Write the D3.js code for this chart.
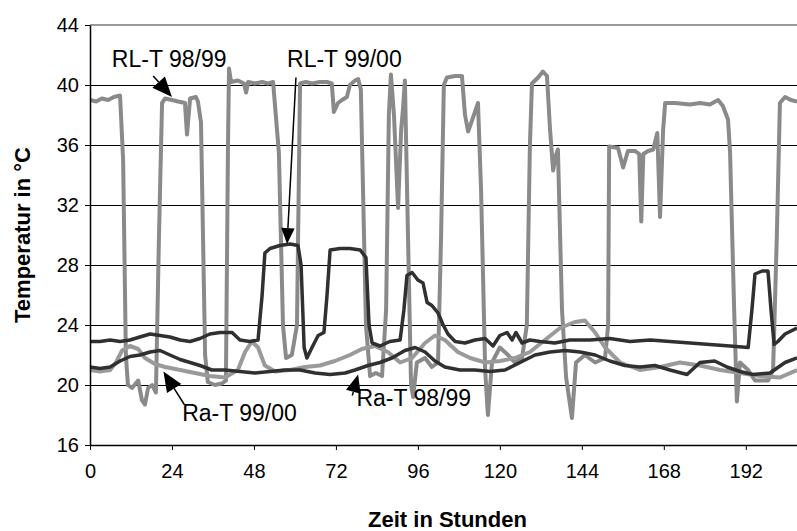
<html>
<head>
  <meta charset="utf-8">
  <script src="https://d3js.org/d3.v7.min.js"></script>
</head>
<style>
  body { margin: 0; background: #fff; }
  text { font-family: Arial, 'Liberation Sans', sans-serif; }
</style>
<body>
  <div class="chart"></div>
  <script>
    // values: hours / temperature in °C
    var rl9899Hours = [0,1.8,3.5,5.3,7.0,8.8,9.7,10.5,11.1,12.3,14.1,15.2,16.1,17.0,18.2,19.3,20.2,21.1,22.0,24.0,25.8,27.8,28.4,29.3,31.0,31.6,32.5,33.7,34.5,36.6,38.6,39.8,40.4,40.7,41.3,43.3,45.1,45.7,46.3,48.3,50.4,52.1,53.6,55.3,56.5,57.4,59.1,60.6,61.5,63.2,65.0,67.3,69.4,70.8,71.4,72.6,73.8,75.2,76.1,77.6,78.5,79.3,80.8,82.0,83.7,85.5,86.7,87.5,88.1,89.0,90.2,91.1,91.6,92.2,93.1,94.0,94.6,95.7,98.1,100.1,101.9,102.8,103.6,104.5,106.9,108.9,109.8,110.7,112.1,113.6,114.5,115.7,116.5,117.7,120.0,122.4,124.4,126.5,127.9,128.8,129.4,131.2,132.6,133.8,134.7,135.6,136.4,137.0,138.2,139.4,141.1,142.3,144.9,147.9,150.8,151.7,152.0,154.6,156.1,157.5,159.6,160.8,161.4,162.0,163.4,164.9,166.1,166.9,167.8,168.4,171.3,175.7,178.6,181.5,183.9,185.3,186.8,187.4,188.6,189.4,190.3,192.7,194.7,198.5,200.0,201.1,202.0,203.5,205.2,207.0];
    var rl9899Temp = [39.0,38.9,39.1,39.0,39.2,39.3,35,22,20.0,19.8,20.3,19.0,18.7,19.8,20.0,19.5,30,38.8,39.1,39.0,38.9,38.8,36.7,39.1,39.2,38.9,37.5,22,20.2,20.0,20.1,20.3,36,41.1,40.2,40.3,40.1,39.5,40.2,40.1,40.2,40.1,40.2,35.5,24,21.8,22.0,24,40.1,40.2,40.1,40.2,40.2,40.1,38.2,38.8,39.0,39.2,40.0,40.3,40.4,39.7,24,20.6,20.8,20.6,25,38,40.7,38,31.8,37.0,38.3,40.3,30,20,19.2,21.5,21.8,21.2,21.5,30,40.0,40.5,40.6,40.6,38,36.9,37.8,38.8,33,21,18.0,21.5,22.5,22.0,21.5,21.8,24,36,40.1,40.5,40.9,40.6,37,34.3,35.3,35.7,25,20.5,17.8,21.5,22,21.5,21.8,24,35.9,35.8,34.5,35.6,35.6,35.4,30.9,35.4,35.6,35.7,36.8,31.2,37,38.8,38.8,38.7,38.8,38.7,39.0,38.6,37.7,35.5,25,18.9,21.5,21,20.3,20.3,21,30,38.8,39.2,39.0,38.9];

    var rl9900Hours = [0,2.9,5.9,8.8,11.7,14.6,17.6,20.5,23.4,26.4,29.3,32.2,35.1,38.1,41.6,43.9,46.8,49.2,50.4,51.2,52.7,55.6,58.6,60.9,61.8,62.7,63.5,65.0,66.8,68.5,69.4,70.3,73.2,76.1,79.1,80.8,81.7,82.6,84.9,87.8,90.8,91.9,92.8,94.3,96.0,97.5,98.7,100.1,101.9,103.4,104.8,106.9,109.8,112.7,115.7,118.0,120.0,122.1,123.6,124.7,126.5,128.8,131.8,136.1,140.5,146.4,152.2,158.1,164.0,169.8,175.7,181.5,187.4,192.7,193.8,194.7,196.8,198.5,199.4,200.3,201.4,203.5,207.0];
    var rl9900Temp = [22.9,22.9,23.0,22.9,23.0,23.2,23.4,23.3,23.2,23.0,22.9,23.1,23.4,23.5,23.5,23.0,22.9,23.0,26,28.8,29.1,29.3,29.4,29.3,28,22.5,21.8,22.5,23.3,23.5,26,29.0,29.1,29.1,29.0,28.5,24,22.8,22.6,22.9,23.0,25,27.3,27.5,27.0,26.8,25.5,25.3,24.8,24.0,23.4,22.9,22.8,23.0,23.1,22.6,23.3,23.5,23.0,23.5,22.8,23.0,22.9,22.8,23.0,23.0,23.1,22.9,23.0,22.9,22.8,22.7,22.6,22.5,25,27.4,27.6,27.6,25,22.7,22.9,23.4,23.8];

    var ra9899Hours = [0,2.9,5.9,7.6,9.4,11.7,14.1,16.1,19.0,22.0,26.4,30.7,35.1,39.5,43.3,45.4,47.4,49.2,51.2,54.2,58.6,62.9,67.3,71.7,76.1,79.6,83.4,87.2,90.8,94.3,98.1,101.0,103.9,107.7,111.3,115.7,120.0,124.4,128.8,133.2,137.6,142.0,144.9,147.9,150.8,155.2,161.0,166.9,172.7,178.6,184.5,190.3,196.2,202.0,207.0];
    var ra9899Temp = [21.0,20.9,21.0,21.5,22.3,22.6,22.4,21.8,21.4,21.2,21.0,20.8,20.6,20.5,21.0,22.2,22.9,22.5,21.3,20.9,21.0,21.2,21.3,21.6,22.0,22.4,22.6,22.2,21.5,21.8,22.8,23.3,23.0,22.2,21.8,21.5,21.6,21.8,22.2,23.0,23.8,24.2,24.3,23.5,22.5,21.5,21.0,21.2,21.5,21.3,21.0,20.8,20.6,20.5,21.0];

    var ra9900Hours = [0,2.9,5.9,8.8,11.7,14.6,17.6,20.5,23.4,26.4,29.3,32.2,35.7,39.5,43.9,48.3,52.7,57.1,61.5,65.9,70.3,74.7,77.6,81.4,84.9,88.4,92.2,95.2,98.1,101.0,103.9,108.3,112.7,117.1,121.5,125.9,130.3,134.7,139.1,143.5,147.9,152.2,156.6,161.0,165.4,169.8,174.8,178.6,182.9,186.5,190.3,194.1,199.1,203.5,207.0];
    var ra9900Temp = [21.2,21.1,21.2,21.6,21.9,22.0,22.2,22.3,22.0,21.7,21.5,21.3,21.0,21.0,20.9,20.8,20.9,21.0,21.0,20.8,20.7,20.8,21.0,21.3,21.5,21.8,22.3,22.5,22.2,21.6,21.2,21.0,21.0,20.9,21.0,21.5,22.0,22.2,22.3,22.2,22.0,21.6,21.3,21.2,21.3,21.0,20.7,21.5,21.6,21.2,20.9,20.7,20.8,21.5,21.8];

    var xTicks = [0, 24, 48, 72, 96, 120, 144, 168, 192];
    var yTicks = [16, 20, 24, 28, 32, 36, 40, 44];

    var margin = {top: 25, right: 0, bottom: 86, left: 90};
    var width = 797 - margin.left - margin.right;
    var height = 531 - margin.top - margin.bottom;

    var svg = d3.select('.chart')
      .append('svg')
        .attr('width', 797)
        .attr('height', 531);

    var x = d3.scaleLinear().domain([0, 207]).range([0, width]);
    var y = d3.scaleLinear().domain([16, 44]).range([height, 0]);

    var g = svg.append('g')
      .attr('transform', 'translate(' + margin.left + ',' + margin.top + ')');

    // gridlines
    g.selectAll('.grid')
      .data(yTicks.filter(function(d) { return d > 16 && d < 44; }))
      .enter().append('line')
        .attr('x1', 0).attr('x2', width)
        .attr('y1', function(d) { return y(d); })
        .attr('y2', function(d) { return y(d); })
        .attr('stroke', '#000').attr('stroke-width', 1)
        .attr('shape-rendering', 'crispEdges');

    // top border
    g.append('line')
      .attr('x1', 0).attr('x2', width)
      .attr('y1', y(44)).attr('y2', y(44))
      .attr('stroke', '#999').attr('stroke-width', 2);

    svg.append('defs').append('clipPath')
      .attr('id', 'clip')
      .append('rect').attr('width', width).attr('height', height);

    var series = [
      {hours: rl9899Hours, temp: rl9899Temp, color: '#8a8a8a', w: 4},
      {hours: ra9899Hours, temp: ra9899Temp, color: '#9a9a9a', w: 4},
      {hours: rl9900Hours, temp: rl9900Temp, color: '#303030', w: 3.5},
      {hours: ra9900Hours, temp: ra9900Temp, color: '#303030', w: 3.5}
    ];

    var line = d3.line()
      .x(function(d) { return x(d[0]); })
      .y(function(d) { return y(d[1]); });

    g.append('g').attr('clip-path', 'url(#clip)')
      .selectAll('path')
      .data(series)
      .enter().append('path')
        .attr('fill', 'none')
        .attr('stroke', function(d) { return d.color; })
        .attr('stroke-width', function(d) { return d.w; })
        .attr('stroke-linejoin', 'round')
        .attr('d', function(d) { return line(d3.zip(d.hours, d.temp)); });

    // axes
    var yAxis = g.append('g')
      .call(d3.axisLeft(y).tickValues(yTicks).tickSize(5).tickPadding(6).tickSizeOuter(0));
    var xAxis = g.append('g')
      .attr('transform', 'translate(0,' + height + ')')
      .call(d3.axisBottom(x).tickValues(xTicks).tickSize(5).tickPadding(14).tickSizeOuter(0));

    [yAxis, xAxis].forEach(function(a) {
      a.select('.domain').attr('stroke', '#000').attr('stroke-width', 1.5);
      a.selectAll('line').attr('stroke', '#000');
      a.selectAll('text').style('font', "20px Arial, 'Liberation Sans'").attr('fill', '#000');
    });

    // axis titles
    svg.append('text')
      .attr('transform', 'translate(30,' + (margin.top + height / 2) + ') rotate(-90)')
      .style('text-anchor', 'middle')
      .style('font', "bold 22px Arial, 'Liberation Sans'")
      .text('Temperatur in °C');

    svg.append('text')
      .attr('x', margin.left + width / 2 + 4)
      .attr('y', 527)
      .style('text-anchor', 'middle')
      .style('font', "bold 22px Arial, 'Liberation Sans'")
      .text('Zeit in Stunden');

    // annotations: label + arrow (tail -> tip), head size in px
    var notes = [
      {text: 'RL-T 98/99', tx: 6.4, ty: 41.2, from: [18.5, 40.6], to: [24.0, 39.2], head: 20},
      {text: 'RL-T 99/00', tx: 57.7, ty: 41.2, from: [60.3, 40.5], to: [57.7, 29.4], head: 16},
      {text: 'Ra-T 99/00', tx: 27.0, ty: 17.6, from: [27.6, 18.7], to: [21.5, 20.9], head: 20},
      {text: 'Ra-T 98/99', tx: 78.0, ty: 18.6, from: [76.8, 19.3], to: [78.5, 20.7], head: 18}
    ];

    var ng = g.append('g');
    notes.forEach(function(n) {
      var x1 = x(n.from[0]), y1 = y(n.from[1]);
      var x2 = x(n.to[0]), y2 = y(n.to[1]);
      var len = Math.sqrt((x2 - x1) * (x2 - x1) + (y2 - y1) * (y2 - y1));
      var ux = (x2 - x1) / len, uy = (y2 - y1) / len;
      var bx = x2 - ux * n.head, by = y2 - uy * n.head;
      var hw = n.head * 0.42;

      ng.append('text')
        .attr('x', x(n.tx)).attr('y', y(n.ty))
        .style('font', "23px Arial, 'Liberation Sans'")
        .text(n.text);
      ng.append('line')
        .attr('x1', x1).attr('y1', y1)
        .attr('x2', bx).attr('y2', by)
        .attr('stroke', '#000').attr('stroke-width', 1.5);
      ng.append('path')
        .attr('d', 'M' + x2 + ',' + y2 +
                   'L' + (bx - uy * hw) + ',' + (by + ux * hw) +
                   'L' + (bx + uy * hw) + ',' + (by - ux * hw) + 'Z')
        .attr('fill', '#000');
    });
  </script>
</body>
</html>
